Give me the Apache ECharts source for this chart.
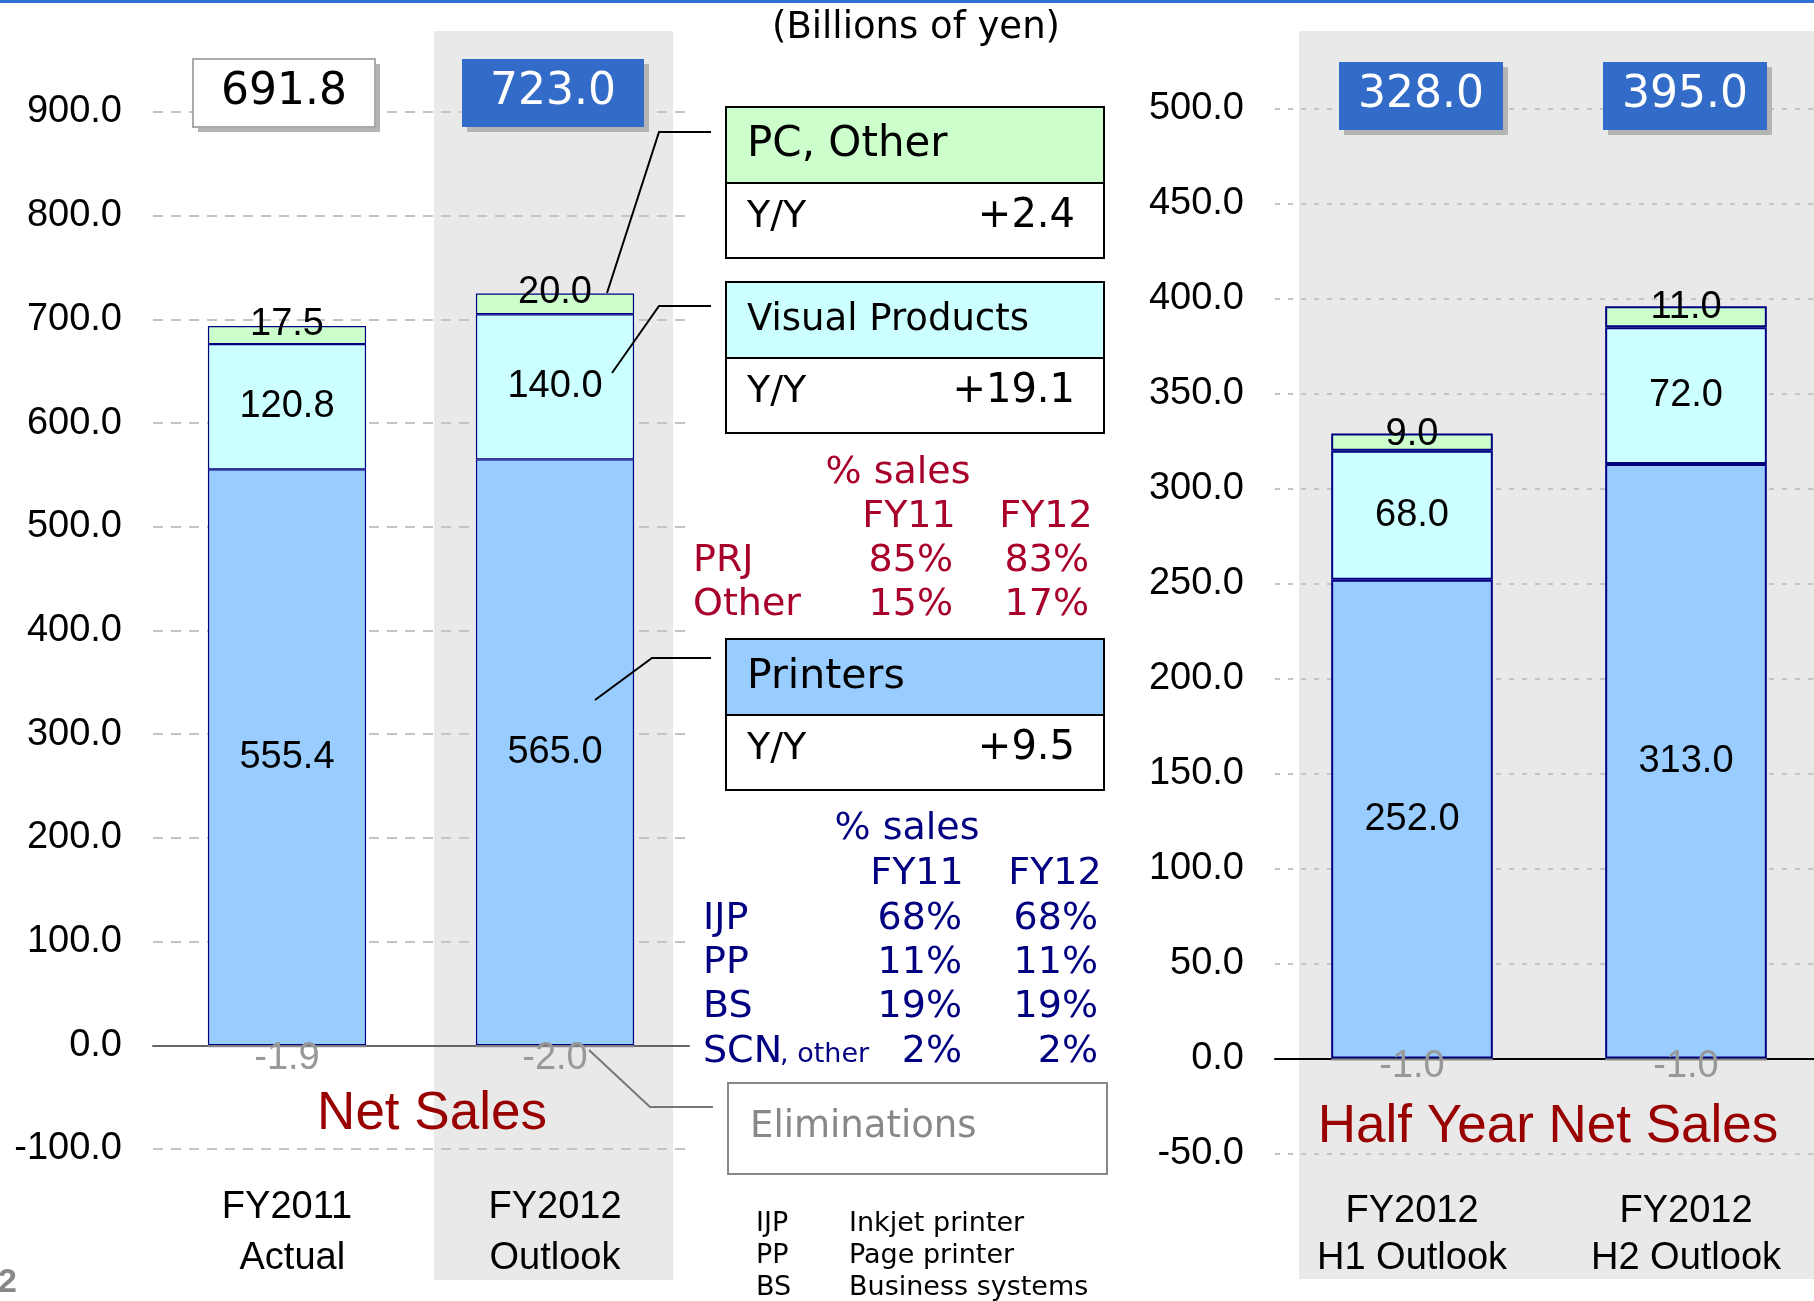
<!DOCTYPE html>
<html>
<head>
<meta charset="utf-8">
<script src="https://cdn.jsdelivr.net/npm/echarts@6/dist/echarts.min.js"></script>
<style>
html, body { margin: 0; padding: 0; background: #fff; }
#main { width: 1814px; height: 1301px; }
</style>
</head>
<body>
<div id="main"></div>
<script>
// yearly net sales (billions of yen)
var fyCategories = ['FY2011\n Actual', 'FY2012\nOutlook'];
var fyPrinters = [555.4, 565.0];
var fyVisual = [120.8, 140.0];
var fyPcOther = [17.5, 20.0];
var fyElim = [-1.9, -2.0];
var fyTotals = [691.8, 723.0];

// half year net sales
var halfCategories = ['FY2012\nH1 Outlook', 'FY2012\nH2 Outlook'];
var halfPrinters = [252.0, 313.0];
var halfVisual = [68.0, 72.0];
var halfPcOther = [9.0, 11.0];
var halfElim = [-1.0, -1.0];
var halfTotals = [328.0, 395.0];

// segment boxes and % sales tables
var segmentNames = ['PC, Other', 'Visual Products', 'Printers'];
var segmentYoY = [2.4, 19.1, 9.5];
var shareYears = ['FY11', 'FY12'];
var vpRows = ['PRJ', 'Other'];
var vpShares = [[85, 83], [15, 17]];
var prRows = ['IJP', 'PP', 'BS', 'SCN'];
var prShares = [[68, 68], [11, 11], [19, 19], [2, 2]];
var abbrevs = ['IJP', 'PP', 'BS'];
var abbrevNames = ['Inkjet printer', 'Page printer', 'Business systems'];

var numFont = '"Liberation Sans", Arial, sans-serif';
var boxFont = '"DejaVu Sans", Verdana, sans-serif';

var chart = echarts.init(document.getElementById('main'));

function fmt(v) { return Number(v).toFixed(1); }

function lbl(position, distance, color) {
  return {
    show: true, position: position, distance: distance,
    fontSize: 38, fontFamily: numFont, color: color || '#000',
    formatter: function (p) { return fmt(p.value); }
  };
}

function bar(name, data, idx, color, label, bw) {
  return {
    name: name, type: 'bar', stack: 's' + idx, xAxisIndex: idx, yAxisIndex: idx,
    data: data, barWidth: '59%',
    itemStyle: { color: color, borderColor: bw ? '#000080' : color, borderWidth: bw },
    label: label, emphasis: { disabled: true }
  };
}

function xAxisOf(idx, cats, color, margin, lh) {
  return {
    type: 'category', gridIndex: idx, data: cats,
    axisLine: { onZero: true, lineStyle: { color: color, width: 2 } },
    axisTick: { inside: true, length: 12, lineStyle: { color: color, width: 2 } },
    axisLabel: { margin: margin, fontSize: 38, lineHeight: lh, fontFamily: numFont, color: '#000' }
  };
}

function yAxisOf(idx, min, max, step, dash) {
  return {
    type: 'value', gridIndex: idx, min: min, max: max, interval: step,
    axisLine: { show: false }, axisTick: { show: false },
    axisLabel: { margin: 31, fontSize: 38, fontFamily: numFont, color: '#000', formatter: fmt },
    splitLine: { lineStyle: { color: '#c4c4c4', width: 2, type: dash } }
  };
}

chart.setOption({
  animation: false,
  grid: [
    { left: 153, right: 1125, top: 112, bottom: 152, containLabel: false, outerBoundsMode: 'none' },
    { left: 1275, right: -9, top: 108.7, bottom: 147.5, containLabel: false, outerBoundsMode: 'none' }
  ],
  xAxis: [
    xAxisOf(0, fyCategories, '#666', 33, 51),
    xAxisOf(1, halfCategories, '#000', 35, 47)
  ],
  yAxis: [
    yAxisOf(0, -100, 900, 100, [10, 8]),
    yAxisOf(1, -50, 500, 50, [5, 8])
  ],
  series: [
    bar('Printers', fyPrinters, 0, '#99ccff', lbl('inside', 0), 1.2),
    bar('Visual Products', fyVisual, 0, '#ccffff', lbl('inside', 0), 1.2),
    bar('PC, Other', fyPcOther, 0, '#ccffcc', lbl('top', -18), 1.2),
    bar('Eliminations', fyElim, 0, '#888888', lbl('bottom', -8, '#999'), 0),
    bar('Printers', halfPrinters, 1, '#99ccff', lbl('inside', 0), 2),
    bar('Visual Products', halfVisual, 1, '#ccffff', lbl('inside', 0), 2),
    bar('PC, Other', halfPcOther, 1, '#ccffcc', lbl('top', -20), 2),
    bar('Eliminations', halfElim, 1, '#888888', lbl('bottom', -13, '#999'), 0)
  ]
});

function text(t, x, y, size, color, align, family, weight) {
  return {
    type: 'text', z: 100, silent: true,
    style: {
      text: t, x: x, y: y, fill: color,
      font: (weight || 'normal') + ' ' + size + 'px ' + (family || boxFont),
      textAlign: align || 'left', textVerticalAlign: 'middle',
      align: align || 'left', verticalAlign: 'middle'
    }
  };
}
function rect(x, y, w, h, fill, stroke, lw, z) {
  return {
    type: 'rect', z: z === undefined ? 100 : z, silent: true,
    shape: { x: x, y: y, width: w, height: h },
    style: { fill: fill, stroke: stroke || null, lineWidth: lw || 0 }
  };
}
function line(pts, color) {
  return {
    type: 'polyline', z: 100, silent: true,
    shape: { points: pts },
    style: { stroke: color, lineWidth: 2, fill: null }
  };
}

var g = [];
// top rule and shaded outlook columns
g.push(rect(0, 0, 1814, 3, '#2f6fd6', null, 0, -10));
g.push(rect(434, 31, 239, 1249, '#e9e9e9', null, 0, -10));
g.push(rect(1299, 31, 515, 1248, '#e9e9e9', null, 0, -10));

g.push(text('(Billions of yen)', 916, 28, 37, '#000', 'center'));

// total boxes above the bars
function totalBox(idx, cat, total, w, top, blue, dx) {
  var cx = chart.convertToPixel({ xAxisIndex: idx }, cat) + dx;
  var x = cx - w / 2;
  g.push(rect(x + 5, top + 5, w, 68, '#b4b4b4'));
  g.push(rect(x, top, w, 68, blue ? '#336bc8' : '#fff', blue ? null : '#aaa', blue ? 0 : 2));
  g.push(text(fmt(total), cx, top + 34, 44, blue ? '#fff' : '#000', 'center'));
}
totalBox(0, 0, fyTotals[0], 182, 59, false, -3);
totalBox(0, 1, fyTotals[1], 182, 59, true, -2);
totalBox(1, 0, halfTotals[0], 164, 62, true, 9);
totalBox(1, 1, halfTotals[1], 164, 62, true, -1);

// segment callout boxes
var boxTops = [107, 282, 639];
var boxFills = ['#ccffcc', '#ccffff', '#99ccff'];
var boxSizes = [42, 37, 41];
for (var i = 0; i < segmentNames.length; i++) {
  var t = boxTops[i];
  g.push(rect(726, t, 378, 76, boxFills[i], '#000', 2));
  g.push(rect(726, t + 76, 378, 75, '#fff', '#000', 2));
  g.push(text(segmentNames[i], 747, t + 38, boxSizes[i], '#000'));
  g.push(text('Y/Y', 747, t + 110, 38, '#000'));
  g.push(text('+' + fmt(segmentYoY[i]), 1075, t + 110, 40, '#000', 'right'));
}

// leader lines
g.push(line([[711, 132], [659, 132], [607, 293]], '#000'));
g.push(line([[711, 306], [659, 306], [612, 373]], '#000'));
g.push(line([[711, 658], [652, 658], [595, 700]], '#000'));
g.push(line([[713, 1107], [650, 1107], [589, 1050]], '#777'));

// Visual Products % sales
var red = '#a8002a';
g.push(text('% sales', 898, 473, 38, red, 'center'));
g.push(text(shareYears[0], 909, 517, 38, red, 'center'));
g.push(text(shareYears[1], 1046, 517, 38, red, 'center'));
for (var r = 0; r < vpRows.length; r++) {
  var yy = 561 + r * 44;
  g.push(text(vpRows[r], 693, yy, 38, red));
  g.push(text(vpShares[r][0] + '%', 953, yy, 38, red, 'right'));
  g.push(text(vpShares[r][1] + '%', 1089, yy, 38, red, 'right'));
}

// Printers % sales
var navy = '#000080';
g.push(text('% sales', 907, 829, 38, navy, 'center'));
g.push(text(shareYears[0], 917, 874, 38, navy, 'center'));
g.push(text(shareYears[1], 1055, 874, 38, navy, 'center'));
for (var k = 0; k < prRows.length; k++) {
  var yk = 919 + k * 44.3;
  g.push(text(prRows[k], 703, yk, 38, navy));
  g.push(text(prShares[k][0] + '%', 962, yk, 38, navy, 'right'));
  g.push(text(prShares[k][1] + '%', 1098, yk, 38, navy, 'right'));
}
g.push(text(', other', 780, yk + 3, 27, navy));

// eliminations box
g.push(rect(728, 1083, 379, 91, '#fff', '#888', 2));
g.push(text('Eliminations', 750, 1127, 37, '#888'));

// abbreviations
for (var a = 0; a < abbrevs.length; a++) {
  g.push(text(abbrevs[a], 756, 1224 + a * 32, 27, '#000'));
  g.push(text(abbrevNames[a], 849, 1224 + a * 32, 27, '#000'));
}

// chart titles
g.push(text('Net Sales', 432, 1114, 53, '#990000', 'center', numFont));
g.push(text('Half Year Net Sales', 1548, 1127, 53, '#990000', 'center', numFont));

g.push(text('2', -2, 1283, 34, '#888', 'left', numFont, 'bold'));

chart.setOption({ graphic: g });
</script>
</body>
</html>
